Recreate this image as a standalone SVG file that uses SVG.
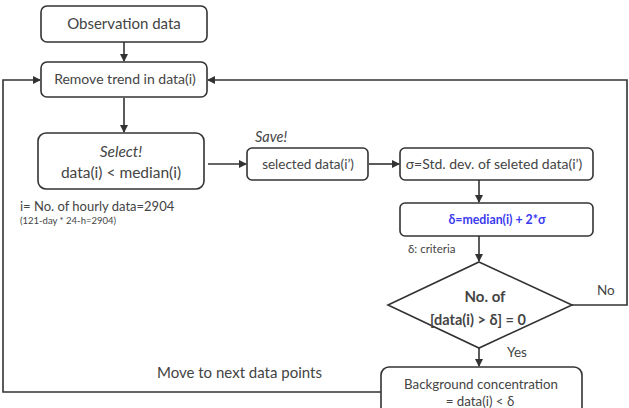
<svg xmlns="http://www.w3.org/2000/svg" width="629" height="408" viewBox="0 0 629 408">
<style>
.box{fill:#fff;stroke:#333;stroke-width:1.6}
.ln{fill:none;stroke:#333;stroke-width:1.6}
text{font-family:Lato,"Open Sans","Liberation Sans",sans-serif;fill:#444}
.c{text-anchor:middle}
.b{font-weight:bold}
</style>
<defs>
<marker id="ah" markerWidth="8" markerHeight="8" refX="7" refY="4" orient="auto" markerUnits="userSpaceOnUse">
<path d="M0,0 L8,4 L0,8 z" fill="#333"/>
</marker>
</defs>
<g id="connectors">
<path class="ln" d="M124,42 V61" marker-end="url(#ah)"/>
<path class="ln" d="M124,98 V132" marker-end="url(#ah)"/>
<path class="ln" d="M208,164 H246" marker-end="url(#ah)"/>
<path class="ln" d="M369,164 H399" marker-end="url(#ah)"/>
<path class="ln" d="M479,180 V202" marker-end="url(#ah)"/>
<path class="ln" d="M479,236 V261" marker-end="url(#ah)"/>
<path class="ln" d="M479,348 V366" marker-end="url(#ah)"/>
<path class="ln" d="M572,305 H627 V80 H208" marker-end="url(#ah)"/>
<path class="ln" d="M381,392 H3 V80 H40" marker-end="url(#ah)"/>
</g>
<g id="obs">
<rect class="box" x="41" y="6" width="166" height="36" rx="6"/>
<text class="c" x="124" y="29" font-size="15">Observation data</text>
</g>
<g id="remove">
<rect class="box" x="41" y="62" width="166" height="35" rx="6"/>
<text class="c" x="125" y="84" font-size="14">Remove trend in data(i)</text>
</g>
<g id="select">
<rect class="box" x="38" y="133" width="166" height="56" rx="8"/>
<text class="c" x="121" y="157" font-size="15.5" font-style="italic">Select!</text>
<text class="c" x="121" y="178" font-size="15.5">data(i) &lt; median(i)</text>
</g>
<g id="note">
<text x="20" y="211" font-size="13">i= No. of hourly data=2904</text>
<text x="20" y="224" font-size="9.5">(121-day * 24-h=2904)</text>
</g>
<g id="selected">
<text x="255" y="142" font-size="14.5" font-style="italic">Save!</text>
<rect class="box" x="247" y="148" width="121" height="32" rx="5"/>
<text class="c" x="308" y="169" font-size="13.5">selected data(i’)</text>
</g>
<g id="sigma">
<rect class="box" x="400" y="148" width="193" height="32" rx="5"/>
<text class="c" x="494" y="169" font-size="14">σ=Std. dev. of seleted data(i’)</text>
</g>
<g id="delta">
<rect class="box" x="400" y="203" width="193" height="33" rx="5"/>
<text class="c b" x="497" y="224" font-size="12.3" style="fill:#3a3aee">δ=median(i) + 2*σ</text>
<text x="408" y="253" font-size="11.5">δ: criteria</text>
</g>
<g id="decision">
<polygon class="box" points="479,262 572,305 479,348 388,305"/>
<text class="c b" x="485" y="302" font-size="15">No. of</text>
<text class="c b" x="478" y="325" font-size="14.5">[data(i) &gt; δ] = 0</text>
<text x="597" y="295" font-size="13.5">No</text>
<text x="507" y="357" font-size="13.5">Yes</text>
</g>
<g id="background">
<rect class="box" x="381" y="367" width="201" height="50" rx="8"/>
<text class="c" x="481" y="389" font-size="13.3">Background concentration</text>
<text class="c" x="480" y="406" font-size="13.3">= data(i) &lt;  δ</text>
</g>
<g id="move">
<text x="157" y="378" font-size="15">Move to next data points</text>
</g>
</svg>
